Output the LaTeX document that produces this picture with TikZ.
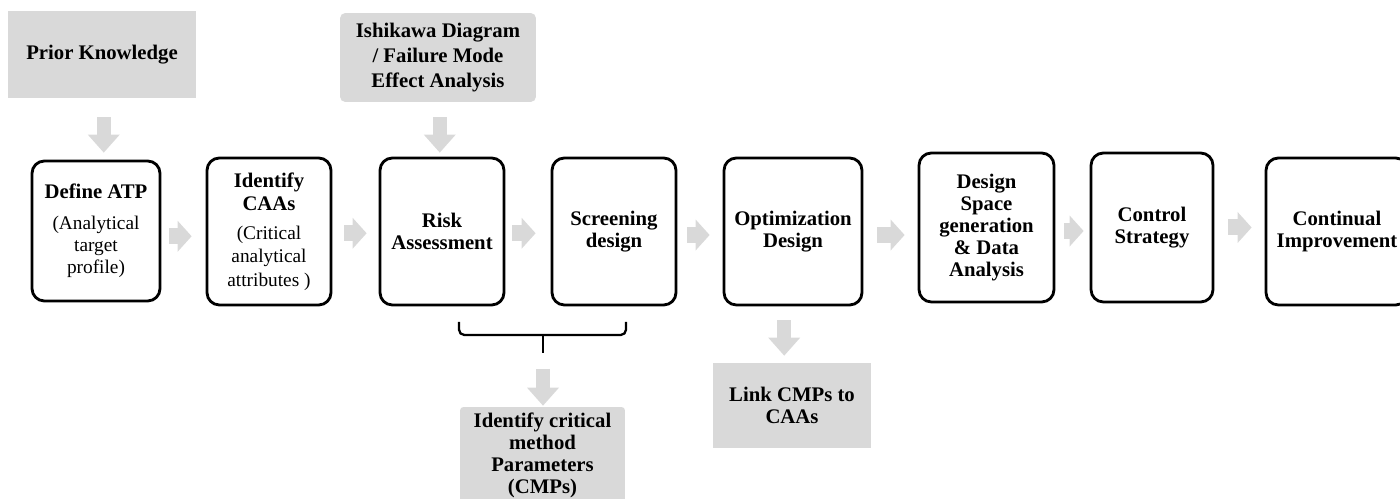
\documentclass[tikz,border=0pt]{standalone}
\usepackage{fontspec}
\setmainfont{Liberation Serif}
\usetikzlibrary{arrows.meta,calc}
\definecolor{boxgray}{HTML}{D9D9D9}
\definecolor{arrowgray}{HTML}{D9D9D9}
\begin{document}
\begin{tikzpicture}[x=0.02cm,y=-0.02cm,
  stepbox/.style={draw, line width=1.6pt, rounded corners=7pt, align=center,
    font=\bfseries\fontsize{11.8}{12.5}\selectfont, inner sep=0pt, fill=white},
  graybox/.style={fill=boxgray, align=center, inner sep=0pt,
    font=\bfseries\fontsize{11.8}{12.5}\selectfont},
  harrow/.style={draw=arrowgray, line width=0.32cm,
    -{Triangle[width=0.62cm,length=0.28cm,line width=0pt]}},
  varrow/.style={draw=arrowgray, line width=0.29cm,
    -{Triangle[width=0.64cm,length=0.36cm,line width=0pt]}},
  brace/.style={draw, line width=1.3pt, rounded corners=3pt}
]
\useasboundingbox (0,0) rectangle (1400,499);
\clip (0,0) rectangle (1400,499);

% top gray boxes
\node[graybox, minimum width=3.76cm, minimum height=1.74cm] (prior) at (102,54.5) {Prior Knowledge};
\node[graybox, rounded corners=3pt, minimum width=3.92cm, minimum height=1.78cm,
  font=\bfseries\fontsize{11.8}{14.2}\selectfont] (ishi) at (438,57.5)
  {Ishikawa Diagram\\/ Failure Mode\\Effect Analysis};

% main steps
\node[stepbox, minimum width=2.56cm, minimum height=2.80cm] (atp) at (96,231)
  {Define ATP\\[5pt]\normalfont\fontsize{11}{12.5}\selectfont(Analytical\\\normalfont\fontsize{11}{12.5}\selectfont target\\\normalfont\fontsize{11}{12.5}\selectfont profile)};
\node[stepbox, minimum width=2.48cm, minimum height=2.94cm,
  font=\bfseries\fontsize{11.8}{13.3}\selectfont] (caa) at (269,231.5)
  {Identify\\CAAs\\[3pt]\normalfont\fontsize{11}{13}\selectfont(Critical\\\normalfont\fontsize{11}{13}\selectfont analytical\\\normalfont\fontsize{11}{13}\selectfont attributes~)};
\node[stepbox, minimum width=2.48cm, minimum height=2.94cm] (risk) at (442,231.5) {Risk\\Assessment};
\node[stepbox, minimum width=2.48cm, minimum height=2.94cm] (screen) at (614,231.5) {Screening\\design};
\node[stepbox, minimum width=2.76cm, minimum height=2.94cm] (opt) at (793,231.5) {Optimization\\Design};
\node[stepbox, minimum width=2.70cm, minimum height=2.98cm] (dspace) at (986.5,227.5)
  {Design\\Space\\generation\\\& Data\\Analysis};
\node[stepbox, minimum width=2.44cm, minimum height=2.98cm] (ctrl) at (1152,227.5) {Control\\Strategy};
\node[stepbox, minimum width=2.84cm, minimum height=2.94cm] (cont) at (1337,231.5) {Continual\\Improvement};

% bottom gray boxes
\node[graybox, rounded corners=2pt, minimum width=3.30cm, minimum height=1.92cm] (cmps) at (542.5,455)
  {Identify critical\\method\\Parameters\\(CMPs)};
\node[graybox, minimum width=3.16cm, minimum height=1.70cm] (link) at (792,405.5) {Link CMPs to\\CAAs};

% horizontal block arrows
\draw[harrow, shorten <=0.16cm, shorten >=0.28cm] ([yshift=-3pt]atp.east) -- ([yshift=-3pt]atp.east -| caa.west);
\draw[harrow, shorten <=0.24cm, shorten >=0.24cm] ([yshift=-1pt]caa.east) -- ([yshift=-1pt]caa.east -| risk.west);
\draw[harrow, shorten <=0.14cm, shorten >=0.30cm] ([yshift=-1pt]risk.east) -- ([yshift=-1pt]risk.east -| screen.west);
\draw[harrow, shorten <=0.20cm, shorten >=0.26cm] ([yshift=-2pt]screen.east) -- ([yshift=-2pt]screen.east -| opt.west);
\draw[harrow, shorten <=0.28cm, shorten >=0.26cm] ([yshift=-2pt]opt.east) -- ([yshift=-2pt]opt.east -| dspace.west);
\draw[harrow, shorten <=0.18cm, shorten >=0.12cm] ([yshift=-2pt]dspace.east) -- ([yshift=-2pt]dspace.east -| ctrl.west);
\draw[harrow, shorten <=0.28cm, shorten >=0.26cm] ([yshift=0pt]ctrl.east) -- ([yshift=0pt]ctrl.east -| cont.west);

% vertical block arrows
\draw[varrow, shorten <=0.38cm, shorten >=0.14cm] ([xshift=1pt]prior.south) -- ([xshift=1pt]prior.south |- atp.north);
\draw[varrow, shorten <=0.30cm, shorten >=0.08cm] ([xshift=1pt]ishi.south) -- ([xshift=1pt]ishi.south |- risk.north);
\draw[varrow, shorten <=0.28cm, shorten >=0.14cm] ([xshift=-5pt]opt.south) -- ([xshift=-5pt]opt.south |- link.north);

% brace under Risk Assessment and Screening design
\coordinate (bl) at (459,322);
\coordinate (br) at (626,322);
\coordinate (bm) at (543,335);
\coordinate (bt) at (543,353);
\draw[brace] (bl) -- (bl |- bm) -- (br |- bm) -- (br);
\draw[brace] (bm) -- (bt);
\draw[varrow, shorten <=0.32cm, shorten >=0.02cm] (bt) -- (bt |- cmps.north);
\end{tikzpicture}
\end{document}
